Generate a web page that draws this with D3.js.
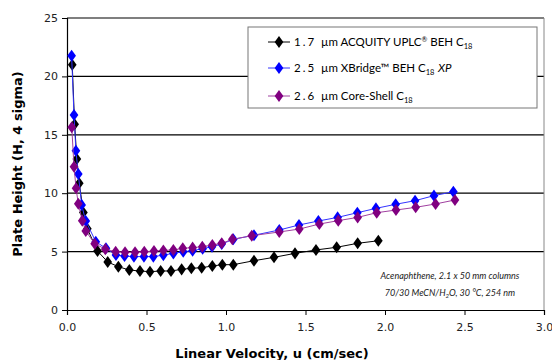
<!DOCTYPE html>
<html>
<head>
<meta charset="utf-8">
<script src="https://cdn.jsdelivr.net/npm/d3@7"></script>
<style>
  body { margin: 0; background: #fff; }
  svg { display: block; }
</style>
</head>
<body>
<svg id="chart" width="552" height="360"></svg>
<script>
// Series data: linear velocity u (cm/sec) vs plate height H
const seriesNames = ["1.7 µm ACQUITY UPLC BEH C18", "2.5 µm XBridge BEH C18 XP", "2.6 µm Core-Shell C18"];
const seriesColors = ["#000000", "#0000ff", "#800080"];
const lineColors = ["#000000", "#3333ff", "#a040a0"];

const uBEH = [0.033, 0.048, 0.062, 0.077, 0.103, 0.128, 0.192, 0.256, 0.323, 0.392, 0.459, 0.522, 0.589, 0.654,
    0.721, 0.782, 0.847, 0.914, 0.977, 1.046, 1.176, 1.302, 1.434, 1.566, 1.696, 1.828, 1.958];
const hBEH = [21.0, 15.9, 12.93, 10.85, 8.35, 6.95, 5.05, 4.11, 3.71, 3.42, 3.34, 3.28, 3.34, 3.34,
    3.48, 3.57, 3.62, 3.77, 3.88, 3.88, 4.22, 4.51, 4.85, 5.14, 5.37, 5.71, 5.93];

const uXBridge = [0.029, 0.044, 0.056, 0.071, 0.092, 0.118, 0.181, 0.245, 0.308, 0.362, 0.421, 0.484, 0.543, 0.606,
    0.669, 0.731, 0.790, 0.853, 0.912, 0.973, 1.046, 1.176, 1.335, 1.459, 1.581, 1.702, 1.826, 1.943, 2.067, 2.189, 2.308, 2.430];
const hXBridge = [21.77, 16.7, 13.64, 11.64, 9.0, 7.62, 5.85, 5.28, 4.71, 4.62, 4.57, 4.57, 4.57, 4.7,
    4.85, 4.99, 5.08, 5.25, 5.42, 5.65, 6.05, 6.4, 6.85, 7.28, 7.62, 7.93, 8.33, 8.7, 9.05, 9.36, 9.79, 10.13];

const uCoreShell = [0.030, 0.044, 0.057, 0.071, 0.096, 0.118, 0.174, 0.241, 0.306, 0.365, 0.428, 0.486, 0.547, 0.606,
    0.669, 0.728, 0.790, 0.851, 0.914, 0.973, 1.040, 1.162, 1.335, 1.461, 1.587, 1.706, 1.828, 1.948, 2.069, 2.193, 2.318, 2.440];
const hCoreShell = [15.64, 12.27, 10.42, 9.1, 7.65, 6.76, 5.68, 5.21, 4.99, 4.94, 4.94, 4.99, 5.05, 5.1,
    5.14, 5.28, 5.34, 5.42, 5.57, 5.71, 6.05, 6.36, 6.68, 6.93, 7.36, 7.65, 7.93, 8.33, 8.56, 8.79, 9.08, 9.42];

const xTicks = [0, 0.5, 1.0, 1.5, 2.0, 2.5, 3.0];
const yTicks = [0, 5, 10, 15, 20, 25];

const series = [
    { u: uBEH, h: hBEH },
    { u: uXBridge, h: hXBridge },
    { u: uCoreShell, h: hCoreShell }
].map((s, i) => ({
    name: seriesNames[i],
    color: seriesColors[i],
    line: lineColors[i],
    points: s.u.map((u, j) => ({ u: u, h: s.h[j] }))
}));

// Plot area
const margin = { top: 18, right: 8, bottom: 50, left: 67 },
    width = 552 - margin.left - margin.right,
    height = 360 - margin.top - margin.bottom;

const svg = d3.select("#chart");
const g = svg.append("g")
    .attr("transform", `translate(${margin.left},${margin.top})`);

const x = d3.scaleLinear().domain([0, 3]).range([0, width]);
const y = d3.scaleLinear().domain([0, 25]).range([height, 0]);

const tickFont = "'DejaVu Sans', Verdana, sans-serif";

// Horizontal gridlines
g.selectAll(".grid")
    .data(yTicks.filter(d => d > 0))
    .enter().append("line")
    .attr("x1", 0)
    .attr("x2", width)
    .attr("y1", d => y(d))
    .attr("y2", d => y(d))
    .attr("stroke", "#000")
    .attr("stroke-width", 1.2);

// Right border
g.append("line")
    .attr("x1", width).attr("x2", width)
    .attr("y1", 0).attr("y2", height)
    .attr("stroke", "#888")
    .attr("stroke-width", 1);

// Axes
const xAxis = g.append("g")
    .attr("transform", `translate(0,${height})`)
    .call(d3.axisBottom(x).tickValues(xTicks).tickFormat(d3.format(".1f")).tickSizeOuter(0).tickSize(5).tickPadding(8));
const yAxis = g.append("g")
    .call(d3.axisLeft(y).tickValues(yTicks).tickSizeOuter(0).tickSize(5).tickPadding(4));

[xAxis, yAxis].forEach(a => {
    a.select(".domain").attr("stroke", "#000").attr("stroke-width", 1.2);
    a.selectAll(".tick line").attr("stroke", "#000");
    a.selectAll("text")
        .attr("fill", "#222")
        .style("font-family", tickFont)
        .style("font-size", "11px");
});

// Axis titles
svg.append("text")
    .attr("x", 272)
    .attr("y", 358)
    .attr("text-anchor", "middle")
    .style("font-family", tickFont)
    .style("font-weight", "bold")
    .style("font-size", "13px")
    .text("Linear Velocity, u (cm/sec)");

svg.append("text")
    .attr("transform", "rotate(-90)")
    .attr("x", -(margin.top + height / 2))
    .attr("y", 22)
    .attr("text-anchor", "middle")
    .style("font-family", tickFont)
    .style("font-weight", "bold")
    .style("font-size", "13px")
    .text("Plate Height (H, 4 sigma)");

// Series lines and diamond markers
const line = d3.line().x(d => x(d.u)).y(d => y(d.h));
const diamond = d3.symbol().type(d3.symbolDiamond).size(42);

series.forEach(s => {
    g.append("path")
        .datum(s.points)
        .attr("fill", "none")
        .attr("stroke", s.line)
        .attr("stroke-width", 1)
        .attr("d", line);
    g.selectAll(null)
        .data(s.points)
        .enter().append("path")
        .attr("d", diamond)
        .attr("transform", d => `translate(${x(d.u)},${y(d.h)}) scale(1.25,1)`)
        .attr("fill", s.color);
});

// Legend
const legend = svg.append("g").attr("transform", "translate(248,27)");
legend.append("rect")
    .attr("width", 289)
    .attr("height", 81)
    .attr("fill", "#fff")
    .attr("stroke", "#777")
    .attr("stroke-width", 1);

const legendFont = "Lato, 'Open Sans', sans-serif";
const legendRows = [15, 41, 69];

series.forEach((s, i) => {
    const row = legend.append("g").attr("transform", `translate(0,${legendRows[i]})`);
    row.append("line")
        .attr("x1", 20).attr("x2", 42)
        .attr("stroke", s.line)
        .attr("stroke-width", 1);
    row.append("path")
        .attr("d", diamond)
        .attr("transform", "translate(31,0) scale(1.25,1)")
        .attr("fill", s.color);
    const t = row.append("text")
        .attr("x", 46)
        .attr("y", 4)
        .style("font-family", legendFont)
        .style("font-size", "11.5px")
        .attr("fill", "#000");
    const sub = (txt) => t.append("tspan").attr("dy", 3).style("font-size", "7.5px").text(txt);
    const back = () => t.append("tspan").attr("dy", -3).text("\u200a");
    if (i === 0) {
        t.append("tspan").style("letter-spacing", "2px").text("1.7 ");
        t.append("tspan").text(" µm ACQUITY UPLC");
        t.append("tspan").attr("dy", -4).style("font-size", "7px").text("®");
        t.append("tspan").attr("dy", 4).text(" BEH C");
        sub("18");
    } else if (i === 1) {
        t.append("tspan").style("letter-spacing", "2px").text("2.5 ");
        t.append("tspan").text(" µm XBridge™ BEH C");
        sub("18");
        back();
        t.append("tspan").style("font-style", "italic").text(" XP");
    } else {
        t.append("tspan").style("letter-spacing", "2px").text("2.6 ");
        t.append("tspan").text(" µm Core-Shell C");
        sub("18");
    }
});

// Conditions note
const note = svg.append("g")
    .style("font-family", legendFont)
    .style("font-style", "italic")
    .style("font-size", "9px")
    .attr("fill", "#222");
note.append("text")
    .attr("x", 450).attr("y", 279)
    .attr("text-anchor", "middle")
    .text("Acenaphthene, 2.1 x 50 mm columns");
const n2 = note.append("text")
    .attr("x", 450).attr("y", 296)
    .attr("text-anchor", "middle");
n2.append("tspan").text("70/30 MeCN/H");
n2.append("tspan").attr("dy", 2).style("font-size", "6px").text("2");
n2.append("tspan").attr("dy", -2).text("O, 30 °C, 254 nm");
</script>
</body>
</html>
